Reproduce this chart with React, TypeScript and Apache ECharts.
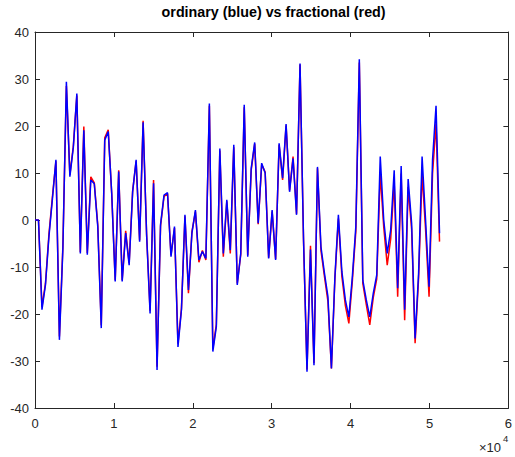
import React, { useEffect, useRef } from "react";
import * as echarts from "echarts";

// sample spacing of the signal (x units)
const sampleStep = 442;

// ordinary derivative (blue)
const ordinary = [
  0, 0, -19.1, -13.8, -3.5, 4.5, 12.8, -25.5, -6, 29.4,
  9.2, 15.5, 26.9, -7.1, 19.1, -7.4, 8.5, 7.7, -1.4, -23,
  17, 18.8, 5.7, -13.1, 10.3, -13.1, -2.8, -9.6, 6, 12.8,
  -4.6, 20.8, -3, -19.9, 7.8, -31.9, -1, 5.3, 5.8, -7.8,
  -1.4, -27, -19.1, 1.1, -14.9, -2.8, 2.1, -8.5, -6.7, -8.2,
  24.8, -28.0, -22.7, 15.2, -7.1, 4.3, -6.4, 16.0, -13.8, -7.1,
  24.5, -7.8, 11, 16.5, -0.7, 12.1, 10, -8.2, 2.1, -8.5,
  16.3, 8.9, 20.4, 6.0, 13.1, 1.1, 33.3, -4, -32.3, -6.3,
  -30.9, 11.3, -5.7, -11.3, -16.3, -31.6, -12.1, 1.1, -11, -17,
  -20.6, -12.1, -1.4, 34.2, -12.8, -17, -20.6, -15.6, -11.7, 13.5,
  0, -7.1, -2.1, 10.6, -14.5, 11.5, -19.1, 8.7, -0.7, -25.2,
  -11.3, 13.5, 0, -14.2, 12.8, 24.3, -2.8,
];

// fractional derivative (red)
const fractional = [
  0, 0, -18.5, -13.5, -3, 5, 12.5, -24.8, -5.5, 28.5,
  9.6, 15.8, 26.5, -6.8, 19.9, -7, 9.2, 7.9, -1, -22.4,
  17.5, 19.2, 5.5, -12.8, 10.6, -12.8, -2.3, -9.2, 6.2, 12.5,
  -4.3, 21.1, -3, -19.3, 8.5, -31.2, -1.3, 5, 5.6, -7.5,
  -1.7, -26.3, -18.8, 0.8, -15.6, -2.5, 1.8, -9, -6.5, -8.5,
  24.3, -27.4, -22.2, 14.8, -7.8, 4, -7.1, 15.5, -13.5, -7.4,
  24, -7.5, 10.6, 16.2, -0.9, 11.8, 10.2, -8, 1.8, -8.3,
  16, 8.5, 20.1, 6.3, 13.5, 1.3, 33.1, -4.3, -31.8, -5.5,
  -30.4, 11, -6.5, -12, -17.3, -31.6, -12.5, 0.3, -12, -18.2,
  -22, -13, -2.5, 33.5, -13.5, -18, -22.3, -16.5, -12.5, 9.9,
  -1.5, -9.6, -4, 8, -16.3, 9.9, -21.3, 7, -2, -26.2,
  -12.4, 9.9, -2, -16.3, 9.9, 20.6, -4.6,
];

const xTicks = [0, 10000, 20000, 30000, 40000, 50000, 60000];
const yTicks = [-40, -30, -20, -10, 0, 10, 20, 30, 40];

const titleText = "ordinary (blue) vs fractional (red)";
const FONT = '"Liberation Sans", Arial, Helvetica, sans-serif';
const AX = "#262626";

export default function App() {
  const ref = useRef<HTMLDivElement>(null);
  useEffect(() => {
    if (!ref.current) return;
    const chart = echarts.init(ref.current, null, { renderer: "svg" });
    const toPairs = (arr: number[]) => arr.map((v, i) => [i * sampleStep, v]);
    const xMin = xTicks[0];
    const xMax = xTicks[xTicks.length - 1];
    const xInt = xTicks[1] - xTicks[0];
    const yMin = yTicks[0];
    const yMax = yTicks[yTicks.length - 1];
    const yInt = yTicks[1] - yTicks[0];
    const axisCommon = {
      axisLine: { show: true, onZero: false, lineStyle: { color: AX, width: 1 } },
      axisTick: { show: true, inside: true, length: 5, lineStyle: { color: AX, width: 1 } },
      splitLine: { show: false },
    };
    chart.setOption({
      animation: false,
      backgroundColor: "#ffffff",
      grid: { left: 35, right: 3, top: 32, bottom: 49, containLabel: false },
      xAxis: [
        {
          type: "value",
          min: xMin,
          max: xMax,
          interval: xInt,
          position: "bottom",
          ...axisCommon,
          axisLabel: {
            show: true,
            margin: 9,
            color: AX,
            fontSize: 13,
            fontFamily: FONT,
            formatter: (v: number) => String(v / 10000),
          },
        },
        {
          type: "value",
          min: xMin,
          max: xMax,
          interval: xInt,
          position: "top",
          ...axisCommon,
          axisLabel: { show: false },
        },
      ],
      yAxis: [
        {
          type: "value",
          min: yMin,
          max: yMax,
          interval: yInt,
          position: "left",
          ...axisCommon,
          axisLabel: {
            show: true,
            margin: 6,
            color: AX,
            fontSize: 13,
            fontFamily: FONT,
          },
        },
        {
          type: "value",
          min: yMin,
          max: yMax,
          interval: yInt,
          position: "right",
          ...axisCommon,
          axisLabel: { show: false },
        },
      ],
      series: [
        {
          name: "fractional",
          type: "line",
          data: toPairs(fractional),
          showSymbol: false,
          symbol: "none",
          lineStyle: { color: "#ff0000", width: 1.5 },
          xAxisIndex: 0,
          yAxisIndex: 0,
          z: 2,
        },
        {
          name: "ordinary",
          type: "line",
          data: toPairs(ordinary),
          showSymbol: false,
          symbol: "none",
          lineStyle: { color: "#0000ff", width: 1.5 },
          xAxisIndex: 0,
          yAxisIndex: 0,
          z: 3,
        },
      ],
      graphic: [
        {
          type: "text",
          x: 273.6,
          y: 12,
          style: {
            text: titleText,
            fontSize: 14.3,
            fontWeight: "bold",
            fontFamily: FONT,
            fill: "#000000",
            align: "center",
            verticalAlign: "middle",
          },
        },
        {
          type: "text",
          x: 479,
          y: 447.5,
          style: {
            text: "×10",
            fontSize: 13,
            fontFamily: FONT,
            fill: AX,
            align: "left",
            verticalAlign: "middle",
          },
        },
        {
          type: "text",
          x: 503,
          y: 438,
          style: {
            text: "4",
            fontSize: 9.5,
            fontFamily: FONT,
            fill: AX,
            align: "left",
            verticalAlign: "middle",
          },
        },
      ],
    });
    return () => chart.dispose();
  }, []);
  return (
    <div
      ref={ref}
      style={{ position: "fixed", left: 0, top: 0, width: 515, height: 457, background: "#fff" }}
    />
  );
}
